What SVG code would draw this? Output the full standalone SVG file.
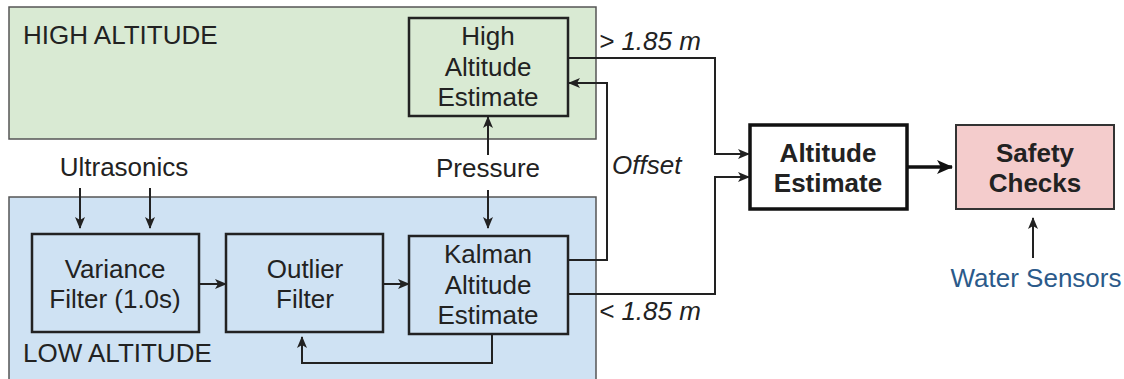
<svg xmlns="http://www.w3.org/2000/svg" width="1124" height="379" viewBox="0 0 1124 379">
<defs>
<style>
text{font-family:"Liberation Sans",Arial,sans-serif;font-size:26px;fill:#222;}
.c{text-anchor:middle;}
.b{font-weight:bold;}
.i{font-style:italic;}
.region{stroke:#555;stroke-width:1.5;}
.box{fill:none;stroke:#222;stroke-width:2.5;}
.conn{fill:none;stroke:#222;stroke-width:2;}
</style>
<marker id="ah" viewBox="0 0 12 10" refX="11" refY="5" markerWidth="12" markerHeight="10" markerUnits="userSpaceOnUse" orient="auto">
<path d="M0,0 L12,5 L0,10 L3,5 z" fill="#222"/>
</marker>
<marker id="ahb" viewBox="0 0 16 14" refX="15" refY="7" markerWidth="16" markerHeight="14" markerUnits="userSpaceOnUse" orient="auto">
<path d="M0,0 L16,7 L0,14 L4,7 z" fill="#111"/>
</marker>
</defs>
<g id="high-region">
<rect class="region" x="9" y="7" width="587" height="132" fill="#d9ead3"/>
<text x="23" y="44">HIGH ALTITUDE</text>
</g>
<g id="low-region">
<rect class="region" x="9" y="197" width="587" height="190" fill="#cfe2f3"/>
<text x="23" y="362">LOW ALTITUDE</text>
</g>
<g id="high-altitude-estimate">
<rect class="box" x="409" y="18" width="159" height="98"/>
<text class="c" x="488" y="45">High</text>
<text class="c" x="488" y="76">Altitude</text>
<text class="c" x="488" y="106">Estimate</text>
</g>
<g id="variance-filter">
<rect class="box" x="32" y="234" width="167" height="98"/>
<text class="c" x="115" y="278">Variance</text>
<text class="c" x="115" y="308">Filter (1.0s)</text>
</g>
<g id="outlier-filter">
<rect class="box" x="226" y="234" width="157" height="98"/>
<text class="c" x="305" y="278">Outlier</text>
<text class="c" x="305" y="308">Filter</text>
</g>
<g id="kalman">
<rect class="box" x="409" y="236" width="159" height="98"/>
<text class="c" x="488" y="263">Kalman</text>
<text class="c" x="488" y="294">Altitude</text>
<text class="c" x="488" y="324">Estimate</text>
</g>
<g id="altitude-estimate">
<rect x="750" y="125" width="157" height="84" fill="#fff" stroke="#111" stroke-width="3.5"/>
<text class="c b" x="828" y="162">Altitude</text>
<text class="c b" x="828" y="192">Estimate</text>
</g>
<g id="safety-checks">
<rect x="956" y="125" width="158" height="84" fill="#f4cccc" stroke="#333" stroke-width="2"/>
<text class="c b" x="1035" y="162">Safety</text>
<text class="c b" x="1035" y="192">Checks</text>
</g>
<g id="labels">
<text class="c" x="124" y="176">Ultrasonics</text>
<text class="c" x="488" y="177">Pressure</text>
<text class="i" x="612" y="174">Offset</text>
<text class="i" x="599" y="50">&gt; 1.85 m</text>
<text class="i" x="599" y="320">&lt; 1.85 m</text>
<text class="c" x="1036" y="287" style="fill:#2b5a8a">Water Sensors</text>
</g>
<g id="connectors">
<path class="conn" d="M80,188 V228" marker-end="url(#ah)"/>
<path class="conn" d="M150,188 V228" marker-end="url(#ah)"/>
<path class="conn" d="M199,284 H226" marker-end="url(#ah)"/>
<path class="conn" d="M383,284 H409" marker-end="url(#ah)"/>
<path class="conn" d="M492,334 V363 H302 V337" marker-end="url(#ah)"/>
<path class="conn" d="M488,155 V117" marker-end="url(#ah)"/>
<path class="conn" d="M488,190 V228" marker-end="url(#ah)"/>
<path class="conn" d="M568,260 H607 V83 H569" marker-end="url(#ah)"/>
<path class="conn" d="M568,58 H715 V154 H749" marker-end="url(#ah)"/>
<path class="conn" d="M568,294 H715 V177 H749" marker-end="url(#ah)"/>
<path d="M907,167 H952" fill="none" stroke="#111" stroke-width="3.5" marker-end="url(#ahb)"/>
<path class="conn" d="M1033,258 V218" marker-end="url(#ah)"/>
</g>
</svg>
